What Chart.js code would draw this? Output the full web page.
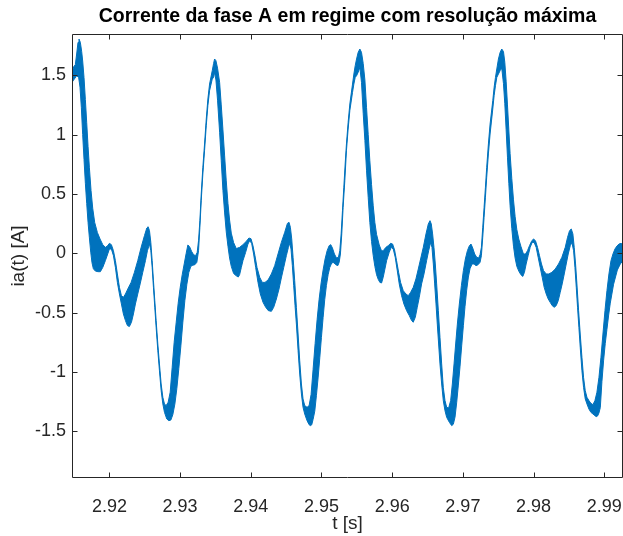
<!DOCTYPE html>
<html>
<head>
<meta charset="utf-8">
<script src="https://cdn.jsdelivr.net/npm/chart.js@4.4.1/dist/chart.umd.min.js"></script>
<style>
  html, body { margin: 0; padding: 0; background: #ffffff; }
  canvas { display: block; }
</style>
</head>
<body>
<canvas id="plot" width="623" height="536"></canvas>
<script>
// Axis ticks
const xTicks = [2.92, 2.93, 2.94, 2.95, 2.96, 2.97, 2.98, 2.99];
const xTickLabels = ['2.92', '2.93', '2.94', '2.95', '2.96', '2.97', '2.98', '2.99'];
const yTicks = [-1.5, -1, -0.5, 0, 0.5, 1, 1.5];
const yTickLabels = ['-1.5', '-1', '-0.5', '0', '0.5', '1', '1.5'];

// Phase A current: the switching ripple makes the trace a band, stored as its
// upper and lower envelope (time in s, current in A).
const tUpper = [
  2.91471,2.91495,2.91518,2.91537,2.91556,2.91570,2.91589,2.91608,2.91622,2.91641,
  2.91660,2.91679,2.91698,2.91717,2.91740,2.91764,2.91792,2.91830,2.91868,2.91906,
  2.91943,2.91972,2.92000,2.92028,2.92057,2.92085,2.92113,2.92142,2.92170,2.92198,
  2.92227,2.92260,2.92307,2.92354,2.92401,2.92449,2.92496,2.92529,2.92548,2.92567,
  2.92586,2.92605,2.92623,2.92642,2.92661,2.92685,2.92708,2.92732,2.92756,2.92779,
  2.92803,2.92831,2.92860,2.92888,2.92916,2.92945,2.92973,2.93001,2.93030,2.93058,
  2.93086,2.93110,2.93134,2.93162,2.93190,2.93219,2.93242,2.93261,2.93280,2.93299,
  2.93322,2.93346,2.93370,2.93393,2.93417,
  2.93455,2.93474,2.93488,2.93507,2.93530,2.93559,2.93582,2.93606,2.93630,2.93653,
  2.93677,2.93700,2.93724,2.93757,2.93795,2.93842,2.93889,2.93937,2.93974,2.94003,
  2.94031,2.94059,2.94088,2.94126,2.94163,2.94201,2.94244,2.94291,2.94338,2.94385,
  2.94432,2.94480,2.94518,2.94541,2.94560,2.94579,2.94598,2.94621,2.94645,2.94669,
  2.94692,2.94716,2.94739,2.94763,2.94796,2.94825,2.94853,2.94881,2.94910,2.94938,
  2.94966,2.94995,2.95023,2.95051,2.95080,2.95108,2.95131,2.95155,2.95183,2.95212,
  2.95240,2.95259,2.95278,2.95297,2.95316,2.95335,2.95353,2.95377,2.95401,
  2.95439,2.95458,2.95477,2.95496,2.95519,2.95543,2.95566,2.95590,2.95614,2.95637,
  2.95661,2.95684,2.95708,2.95732,2.95755,2.95779,2.95817,2.95850,2.95873,2.95911,
  2.95944,2.95977,2.96006,2.96034,2.96062,2.96091,2.96119,2.96157,2.96195,2.96228,
  2.96261,2.96298,2.96336,2.96369,2.96402,2.96440,2.96478,2.96511,2.96535,2.96553,
  2.96572,2.96591,2.96610,2.96629,2.96653,2.96676,2.96700,2.96723,2.96747,2.96771,
  2.96799,2.96827,2.96851,2.96875,2.96898,2.96922,2.96950,2.96979,2.97007,2.97035,
  2.97064,2.97092,2.97115,2.97139,2.97167,2.97196,2.97224,2.97243,2.97262,2.97281,
  2.97300,2.97319,2.97337,2.97361,2.97385,
  2.97423,2.97442,2.97461,2.97480,2.97503,2.97527,2.97550,2.97574,2.97593,2.97612,
  2.97631,2.97650,2.97668,2.97692,2.97716,2.97739,2.97763,2.97791,2.97820,2.97857,
  2.97886,2.97914,2.97942,2.97971,2.97999,2.98027,2.98056,2.98084,2.98112,2.98141,
  2.98179,2.98216,2.98259,2.98306,2.98353,2.98400,2.98448,2.98481,2.98509,2.98533,
  2.98556,2.98575,2.98594,2.98613,2.98637,2.98660,2.98684,2.98707,2.98731,2.98755,
  2.98783,2.98811,2.98840,2.98868,2.98896,2.98925,2.98953,2.98981,2.99010,2.99038,
  2.99066,2.99095,2.99123,2.99151,2.99180,2.99208,2.99237,2.99265
];
const iUpper = [
  1.525,1.572,1.589,1.679,1.777,1.805,1.777,1.700,1.620,1.480,
  1.295,1.100,0.900,0.720,0.530,0.380,0.260,0.175,0.120,0.073,
  0.050,0.062,0.084,0.073,0.022,-0.062,-0.174,-0.287,-0.357,-0.371,
  -0.343,-0.301,-0.245,-0.160,-0.062,0.050,0.149,0.213,0.224,0.191,
  0.092,-0.062,-0.230,-0.399,-0.567,-0.764,-0.932,-1.101,-1.213,-1.269,
  -1.283,-1.255,-1.170,-0.960,-0.750,-0.580,-0.420,-0.290,-0.180,-0.090,
  0.000,0.070,0.056,0.017,-0.011,-0.020,0.008,0.107,0.275,0.500,
  0.724,0.921,1.131,1.300,1.426,
  1.539,1.600,1.637,1.623,1.560,1.440,1.250,1.040,0.820,0.610,
  0.420,0.280,0.170,0.090,0.040,0.050,0.073,0.101,0.129,0.123,
  0.064,-0.020,-0.119,-0.202,-0.245,-0.245,-0.225,-0.174,-0.104,-0.006,
  0.092,0.177,0.252,0.261,0.219,0.121,-0.034,-0.230,-0.455,-0.680,
  -0.904,-1.101,-1.227,-1.283,-1.298,-1.283,-1.190,-0.980,-0.760,-0.560,
  -0.390,-0.250,-0.140,-0.048,0.022,0.064,0.073,0.045,-0.006,-0.039,
  -0.034,0.022,0.163,0.359,0.556,0.752,0.921,1.103,1.258,
  1.426,1.510,1.581,1.637,1.693,1.721,1.693,1.600,1.460,1.230,
  1.000,0.780,0.580,0.400,0.260,0.160,0.070,0.020,0.022,0.050,
  0.064,0.084,0.078,0.028,-0.062,-0.160,-0.245,-0.315,-0.343,-0.357,
  -0.329,-0.287,-0.216,-0.133,-0.048,0.050,0.163,0.247,0.275,0.247,
  0.163,0.050,-0.090,-0.258,-0.483,-0.708,-0.932,-1.129,-1.241,-1.298,
  -1.303,-1.241,-1.101,-0.932,-0.764,-0.596,-0.427,-0.273,-0.146,-0.048,
  0.022,0.064,0.078,0.045,-0.006,-0.034,-0.039,-0.011,0.050,0.219,
  0.387,0.556,0.724,0.921,1.089,
  1.286,1.398,1.482,1.553,1.637,1.693,1.721,1.700,1.610,1.450,
  1.250,1.040,0.840,0.630,0.450,0.310,0.200,0.120,0.060,-0.006,
  -0.006,0.022,0.064,0.101,0.121,0.106,0.050,-0.020,-0.090,-0.146,
  -0.174,-0.174,-0.160,-0.133,-0.090,-0.034,0.050,0.135,0.191,0.205,
  0.163,0.050,-0.090,-0.258,-0.483,-0.680,-0.876,-1.045,-1.157,-1.213,
  -1.241,-1.264,-1.275,-1.241,-1.171,-1.045,-0.876,-0.680,-0.483,-0.315,
  -0.174,-0.062,-0.006,0.036,0.062,0.078,0.084,0.073
];
const tLower = [
  2.91471,2.91504,2.91537,2.91565,2.91584,2.91603,2.91622,2.91641,2.91660,2.91679,
  2.91698,2.91717,2.91736,2.91754,2.91773,2.91802,2.91839,2.91872,2.91906,2.91943,
  2.91976,2.92000,2.92028,2.92057,2.92085,2.92113,2.92142,2.92170,2.92198,2.92227,
  2.92255,2.92283,2.92312,2.92340,2.92368,2.92401,2.92435,2.92472,2.92510,2.92538,
  2.92567,2.92586,2.92605,2.92623,2.92642,2.92661,2.92685,2.92708,2.92732,2.92756,
  2.92779,2.92812,2.92841,2.92869,2.92897,2.92926,2.92954,2.92982,2.93011,2.93039,
  2.93067,2.93096,2.93124,2.93152,2.93181,2.93209,2.93237,2.93261,2.93280,2.93299,
  2.93322,2.93346,2.93370,2.93393,2.93417,
  2.93455,2.93474,2.93488,2.93507,2.93530,2.93559,2.93582,2.93606,2.93630,2.93653,
  2.93677,2.93700,2.93724,2.93757,2.93795,2.93823,2.93842,2.93866,2.93889,2.93927,
  2.93960,2.93984,2.94012,2.94040,2.94069,2.94102,2.94135,2.94173,2.94211,2.94248,
  2.94291,2.94324,2.94362,2.94399,2.94432,2.94466,2.94503,2.94532,2.94551,2.94569,
  2.94588,2.94607,2.94626,2.94645,2.94669,2.94692,2.94716,2.94739,2.94763,2.94796,
  2.94825,2.94843,2.94862,2.94881,2.94905,2.94928,2.94952,2.94976,2.94999,2.95023,
  2.95046,2.95070,2.95094,2.95117,2.95146,2.95174,2.95202,2.95231,2.95250,2.95268,
  2.95287,2.95306,2.95330,2.95353,2.95377,2.95401,
  2.95439,2.95458,2.95477,2.95496,2.95519,2.95543,2.95566,2.95590,2.95614,2.95637,
  2.95661,2.95684,2.95708,2.95732,2.95755,2.95779,2.95803,2.95826,2.95850,2.95873,
  2.95897,2.95921,2.95958,2.95987,2.96015,2.96043,2.96072,2.96100,2.96133,2.96166,
  2.96204,2.96242,2.96275,2.96298,2.96327,2.96355,2.96383,2.96416,2.96450,2.96487,
  2.96516,2.96544,2.96563,2.96582,2.96601,2.96620,2.96638,2.96657,2.96676,2.96700,
  2.96723,2.96747,2.96771,2.96809,2.96842,2.96865,2.96889,2.96912,2.96936,2.96960,
  2.96983,2.97007,2.97030,2.97054,2.97078,2.97101,2.97130,2.97158,2.97186,2.97215,
  2.97243,2.97262,2.97281,2.97300,2.97319,2.97337,2.97361,2.97385,
  2.97423,2.97442,2.97461,2.97480,2.97503,2.97527,2.97550,2.97574,2.97593,2.97612,
  2.97631,2.97650,2.97668,2.97692,2.97716,2.97739,2.97763,2.97791,2.97820,2.97848,
  2.97871,2.97895,2.97923,2.97952,2.97980,2.98008,2.98037,2.98065,2.98094,2.98122,
  2.98150,2.98179,2.98207,2.98235,2.98264,2.98292,2.98320,2.98349,2.98377,2.98405,
  2.98434,2.98462,2.98490,2.98519,2.98542,2.98566,2.98585,2.98604,2.98622,2.98641,
  2.98660,2.98684,2.98707,2.98731,2.98755,2.98783,2.98811,2.98840,2.98868,2.98887,
  2.98906,2.98925,2.98944,2.98967,2.98991,2.99014,2.99038,2.99062,2.99085,2.99132,
  2.99185,2.99227,2.99265
];
const iLower = [
  1.440,1.468,1.496,1.482,1.400,1.230,1.000,0.790,0.590,0.420,
  0.260,0.130,0.010,-0.080,-0.130,-0.150,-0.155,-0.155,-0.119,-0.062,
  -0.006,0.036,0.036,-0.020,-0.119,-0.245,-0.343,-0.427,-0.511,-0.567,
  -0.609,-0.617,-0.581,-0.511,-0.427,-0.343,-0.258,-0.160,-0.062,0.022,
  0.078,0.022,-0.119,-0.287,-0.455,-0.623,-0.820,-0.989,-1.157,-1.269,
  -1.340,-1.396,-1.410,-1.405,-1.360,-1.270,-1.140,-0.970,-0.780,-0.580,
  -0.400,-0.260,-0.160,-0.110,-0.100,-0.096,-0.076,0.022,0.219,0.443,
  0.668,0.865,1.075,1.244,1.370,
  1.468,1.482,1.525,1.460,1.290,1.020,0.780,0.530,0.340,0.180,
  0.060,-0.040,-0.110,-0.170,-0.190,-0.200,-0.180,-0.119,-0.062,0.008,
  0.078,0.106,0.084,-0.006,-0.119,-0.245,-0.343,-0.413,-0.455,-0.483,
  -0.489,-0.455,-0.385,-0.301,-0.208,-0.119,-0.020,0.050,0.084,0.036,
  -0.104,-0.273,-0.441,-0.596,-0.820,-1.017,-1.185,-1.298,-1.354,-1.410,
  -1.444,-1.452,-1.445,-1.400,-1.330,-1.200,-1.050,-0.880,-0.710,-0.540,
  -0.390,-0.270,-0.180,-0.120,-0.080,-0.079,-0.096,-0.104,-0.076,-0.006,
  0.163,0.387,0.612,0.865,1.047,1.202,
  1.356,1.426,1.482,1.496,1.525,1.566,1.440,1.180,0.950,0.700,
  0.470,0.260,0.100,-0.020,-0.110,-0.180,-0.220,-0.245,-0.250,-0.202,
  -0.133,-0.062,0.008,0.050,0.036,-0.034,-0.146,-0.258,-0.357,-0.427,
  -0.483,-0.525,-0.567,-0.581,-0.539,-0.455,-0.371,-0.258,-0.174,-0.062,
  0.022,0.092,0.050,-0.090,-0.258,-0.427,-0.596,-0.764,-0.932,-1.101,
  -1.241,-1.326,-1.382,-1.424,-1.452,-1.440,-1.380,-1.260,-1.110,-0.950,
  -0.780,-0.610,-0.450,-0.310,-0.200,-0.130,-0.090,-0.090,-0.104,-0.096,
  -0.076,-0.020,0.135,0.303,0.472,0.640,0.837,1.005,
  1.216,1.328,1.412,1.482,1.510,1.539,1.560,1.430,1.260,1.040,
  0.810,0.590,0.400,0.210,0.060,-0.040,-0.110,-0.150,-0.180,-0.195,
  -0.160,-0.090,-0.020,0.050,0.092,0.092,0.050,-0.034,-0.119,-0.202,
  -0.287,-0.343,-0.385,-0.413,-0.441,-0.455,-0.441,-0.399,-0.329,-0.258,
  -0.174,-0.090,-0.006,0.064,0.092,0.022,-0.119,-0.287,-0.455,-0.623,
  -0.792,-0.989,-1.129,-1.227,-1.269,-1.312,-1.340,-1.354,-1.368,-1.376,
  -1.370,-1.345,-1.300,-1.080,-0.900,-0.760,-0.640,-0.520,-0.420,-0.260,
  -0.141,-0.090,-0.062
];

const tMin = 2.91471, tMax = 2.99265;
const iMin = -1.893, iMax = 1.8475;

// Closed band outline: upper envelope left to right, lower envelope back.
const band = tUpper.map((t, k) => ({ x: t, y: iUpper[k] }))
  .concat(tLower.map((t, k) => ({ x: t, y: iLower[k] })).reverse());

const ink = '#262626';
const traceColor = '#0072BD';
const fontFamily = "'Liberation Sans', Arial, Helvetica, sans-serif";

// Box around the axes with inward tick marks on all four sides.
const axesBox = {
  id: 'axesBox',
  afterDatasetsDraw(chart) {
    const { ctx, chartArea: a, scales } = chart;
    const L = 5.5;
    ctx.save();
    ctx.strokeStyle = ink;
    ctx.lineWidth = 1;
    ctx.beginPath();
    ctx.rect(a.left + 0.5, a.top + 0.5, a.right - a.left - 1, a.bottom - a.top - 1);
    xTicks.forEach(v => {
      const px = Math.round(scales.x.getPixelForValue(v)) + 0.5;
      ctx.moveTo(px, a.bottom); ctx.lineTo(px, a.bottom - L);
      ctx.moveTo(px, a.top); ctx.lineTo(px, a.top + L);
    });
    yTicks.forEach(v => {
      const py = Math.round(scales.y.getPixelForValue(v)) + 0.5;
      ctx.moveTo(a.left, py); ctx.lineTo(a.left + L, py);
      ctx.moveTo(a.right, py); ctx.lineTo(a.right - L, py);
    });
    ctx.stroke();
    ctx.restore();
  }
};

new Chart(document.getElementById('plot'), {
  type: 'line',
  data: {
    datasets: [{
      data: band,
      fill: 'shape',
      backgroundColor: traceColor,
      borderColor: traceColor,
      borderWidth: 1,
      pointRadius: 0,
      tension: 0
    }]
  },
  options: {
    responsive: false,
    animation: false,
    events: [],
    layout: { padding: 0 },
    plugins: {
      legend: { display: false },
      tooltip: { enabled: false },
      title: {
        display: true,
        fullSize: false,
        text: 'Corrente da fase A em regime com resolução máxima',
        color: '#000000',
        font: { family: fontFamily, size: 19.5, weight: 'bold', lineHeight: 1.2 },
        padding: { top: 5, bottom: 5.6 }
      }
    },
    scales: {
      x: {
        type: 'linear',
        min: tMin,
        max: tMax,
        afterBuildTicks: s => { s.ticks = xTicks.map(v => ({ value: v })); },
        afterFit: s => { s.height = 58; s.paddingLeft = 0; s.paddingRight = 0; },
        grid: { display: false, drawTicks: false },
        border: { display: false },
        ticks: {
          autoSkip: false,
          maxRotation: 0,
          padding: 18.5,
          color: ink,
          font: { family: fontFamily, size: 18 },
          callback: (v, k) => xTickLabels[k]
        },
        title: {
          display: true,
          text: 't [s]',
          color: ink,
          font: { family: fontFamily, size: 19 },
          padding: { top: 0, bottom: 0.5 }
        }
      },
      y: {
        type: 'linear',
        min: iMin,
        max: iMax,
        afterBuildTicks: s => { s.ticks = yTicks.map(v => ({ value: v })); },
        afterFit: s => { s.width = 72; s.paddingTop = 0; s.paddingBottom = 0; },
        grid: { display: false, drawTicks: false },
        border: { display: false },
        ticks: {
          autoSkip: false,
          padding: 6,
          color: ink,
          font: { family: fontFamily, size: 18 },
          callback: (v, k) => yTickLabels[k]
        },
        title: {
          display: true,
          text: 'ia(t) [A]',
          color: ink,
          font: { family: fontFamily, size: 19 },
          padding: { top: 7, bottom: 0 }
        }
      }
    }
  },
  plugins: [axesBox]
});
</script>
</body>
</html>
